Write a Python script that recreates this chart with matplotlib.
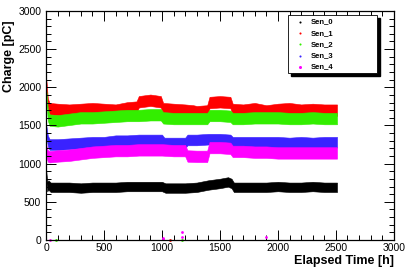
from matplotlib import pyplot as plt
from matplotlib.patches import Rectangle
from matplotlib.ticker import MultipleLocator
import numpy as np

plt.rcParams['font.family'] = ['Liberation Sans', 'DejaVu Sans']

# band centre values (pC) against elapsed time (h)
t0 = [0, 3, 10, 20, 40, 100, 200, 300, 400, 500, 600, 700, 800, 900, 1000, 1030,
      1100, 1200, 1300, 1400, 1500, 1570, 1600, 1620, 1700, 1800, 1900, 2000,
      2100, 2200, 2300, 2400, 2510]
sen0 = [880, 820, 700, 720, 690, 690, 690, 680, 690, 690, 690, 700, 700, 700, 700, 680,
        680, 680, 690, 720, 740, 760, 740, 690, 690, 690, 690, 700,
        690, 690, 700, 690, 690]

t1 = [0, 5, 15, 30, 100, 200, 300, 400, 500, 600, 700, 780, 800, 900, 990, 1010,
      1100, 1200, 1270, 1300, 1390, 1410, 1500, 1590, 1610, 1700, 1800, 1900,
      2000, 2100, 2200, 2300, 2400, 2510]
sen1 = [2050, 1980, 1780, 1720, 1710, 1700, 1710, 1720, 1710, 1700, 1730, 1740, 1810, 1830, 1810, 1720,
        1710, 1700, 1690, 1680, 1690, 1800, 1810, 1800, 1710, 1700, 1720, 1690,
        1710, 1720, 1700, 1710, 1700, 1700]

t2 = [0, 5, 15, 30, 100, 200, 300, 400, 500, 600, 700, 800, 900, 990, 1010, 1100,
      1200, 1300, 1390, 1410, 1500, 1590, 1610, 1700, 1800, 1900, 2000, 2100,
      2200, 2300, 2400, 2510]
sen2 = [1900, 1850, 1640, 1570, 1560, 1580, 1600, 1600, 1610, 1620, 1630, 1630, 1640, 1640, 1600, 1590,
        1590, 1590, 1590, 1630, 1630, 1620, 1590, 1590, 1600, 1600, 1600, 1590,
        1590, 1600, 1590, 1590]

t3 = [0, 5, 15, 30, 100, 200, 300, 400, 500, 600, 700, 800, 900, 1000, 1020, 1100,
      1200, 1220, 1300, 1400, 1500, 1590, 1610, 1700, 1800, 1900, 2000, 2100,
      2200, 2300, 2400, 2510]
sen3 = [1450, 1400, 1300, 1250, 1250, 1260, 1270, 1280, 1280, 1300, 1300, 1310, 1310, 1310, 1270, 1270,
        1270, 1310, 1310, 1320, 1320, 1310, 1280, 1280, 1280, 1280, 1280, 1270,
        1280, 1270, 1280, 1280]

t4 = [0, 5, 15, 30, 100, 200, 300, 400, 500, 600, 700, 800, 900, 1000, 1100, 1200,
      1220, 1300, 1390, 1410, 1500, 1590, 1610, 1700, 1800, 1900, 2000, 2100,
      2200, 2300, 2400, 2510]
sen4 = [1200, 1150, 1100, 1090, 1100, 1110, 1130, 1150, 1160, 1170, 1170, 1180, 1180, 1180, 1170, 1170,
        1100, 1095, 1095, 1210, 1210, 1200, 1160, 1160, 1150, 1150, 1140, 1140,
        1140, 1140, 1140, 1140]

# approximate half-thickness of each noisy band (pC)
spread = [62, 75, 75, 70, 75]

# stray readings near zero
out_t = [34, 86, 1005, 1012, 1070, 1172, 1172, 1175, 1897]
out_v = [0, 0, 30, 10, 0, 100, 40, 0, 40]
out_c = [4, 2, 4, 4, 1, 4, 4, 2, 4]

names = ['Sen_0', 'Sen_1', 'Sen_2', 'Sen_3', 'Sen_4']
colors = ['black', '#ff0000', '#33ee00', '#3a22ff', '#ff00ff']

fig = plt.figure(figsize=(4.15, 2.73), dpi=100)
ax = fig.add_axes([0.111, 0.121, 0.838, 0.839])

series = [(t0, sen0), (t1, sen1), (t2, sen2), (t3, sen3), (t4, sen4)]
for i, (t, v) in enumerate(series):
    t = np.array(t)
    v = np.array(v)
    ax.fill_between(t, v - spread[i], v + spread[i], color=colors[i], lw=0.4, edgecolor=colors[i])

for t, v, c in zip(out_t, out_v, out_c):
    ax.plot(t, v, 'o', ms=2, color=colors[c], mew=0, clip_on=False)

ax.set_xlim(0, 3000)
ax.set_ylim(0, 3000)
ax.xaxis.set_major_locator(MultipleLocator(500))
ax.xaxis.set_minor_locator(MultipleLocator(100))
ax.yaxis.set_major_locator(MultipleLocator(500))
ax.yaxis.set_minor_locator(MultipleLocator(100))
ax.tick_params(which='both', direction='in', top=True, right=True, labelsize=7.5, width=0.7)
ax.tick_params(which='major', length=7)
ax.tick_params(which='minor', length=3.5)
ax.tick_params(axis='x', pad=2.5)
for s in ax.spines.values():
    s.set_linewidth(0.9)

ax.set_ylabel('Charge [pC]', fontsize=9, fontweight='bold', loc='top')
ax.yaxis.set_label_coords(-0.09, 0.96)
ax.set_xlabel('Elapsed Time [h]', fontsize=9, fontweight='bold', loc='right')
ax.xaxis.set_label_coords(1.0, -0.065)

# ROOT-style legend box with a solid shadow
x0, y0, w, h = 0.695, 0.729, 0.256, 0.254
ax.add_patch(Rectangle((x0 + 0.009, y0 - 0.013), w, h, transform=ax.transAxes,
                       facecolor='black', edgecolor='black', zorder=5, clip_on=False))
ax.add_patch(Rectangle((x0, y0), w, h, transform=ax.transAxes, facecolor='white',
                       edgecolor='black', lw=0.6, zorder=6, clip_on=False))
for i, name in enumerate(names):
    yy = 0.952 - i * 0.049
    ax.plot(0.730, yy, 'o', ms=1.5 if i < 4 else 2.2, mew=0, color=colors[i],
            transform=ax.transAxes, zorder=7, clip_on=False)
    ax.text(0.761, yy, name, transform=ax.transAxes, fontsize=5.5, fontweight='bold',
            va='center', ha='left', zorder=7)

fig.savefig('out.png', dpi=100)
